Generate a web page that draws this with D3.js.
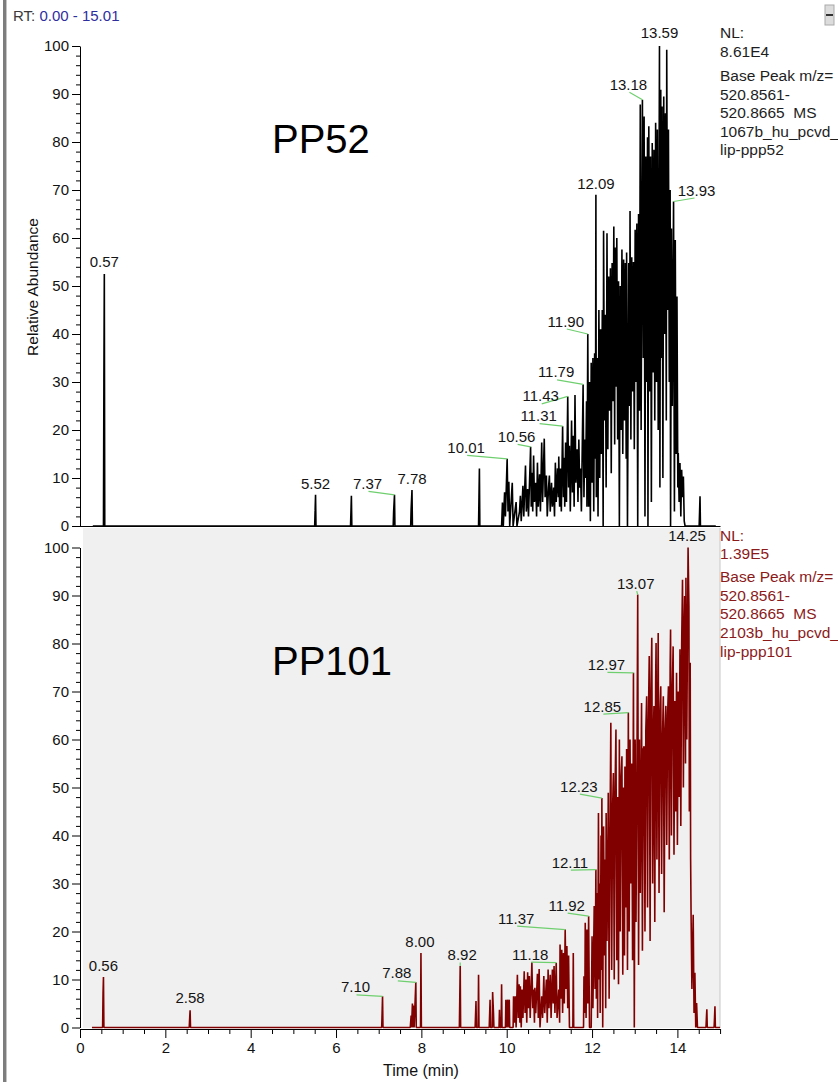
<!DOCTYPE html>
<html><head><meta charset="utf-8">
<script src="https://cdn.jsdelivr.net/npm/d3@7/dist/d3.min.js"></script>
<style>
body{margin:0;background:#fff;}
svg{display:block;}
text{font-family:"Liberation Sans",Arial,sans-serif;}
</style>
</head><body>
<svg id="c" width="838" height="1082"></svg>
<script>
// ---------- data ----------
const rtRange = ["0.00", "15.01"];
const xTicks = [0, 2, 4, 6, 8, 10, 12, 14];
const yTicks = [0, 10, 20, 30, 40, 50, 60, 70, 80, 90, 100];
const sampleNames = ["PP52", "PP101"];

// PP52 base peak chromatogram: [time (min), relative abundance]
const pp52Scans = [
[0.30,0],[0.55,0],[0.56,30],[0.57,52.5],[0.58,0],[5.50,0],[5.51,3.2],[5.52,6.5],[5.53,0],
[6.34,0],[6.35,3],[6.36,6.3],[6.37,0],[7.34,0],[7.35,3],[7.37,6.5],[7.38,0],
[7.75,0],[7.76,3.5],[7.78,7.5],[7.79,0],[9.34,0],[9.35,6],[9.36,12],[9.37,0],
[9.88,0],[9.90,4.9],[9.92,0],[9.95,7],[9.97,2],[10.01,14],[10.03,3],[10.05,9.2],[10.07,0],
[10.13,9],[10.15,0],[10.22,5],[10.24,0],[10.30,3],[10.32,6.3],[10.34,1],[10.38,8.4],[10.40,2],
[10.44,12.6],[10.46,3],[10.49,7.7],[10.51,2],[10.56,16.5],[10.575,4],[10.59,11.1],[10.61,3],
[10.63,14.7],[10.65,5],[10.68,9],[10.70,2],[10.72,13.2],[10.74,4],[10.77,10.8],[10.79,3],
[10.82,17.4],[10.84,5],[10.88,18.2],[10.90,6],[10.93,10.5],[10.95,2],[10.98,8],[11.00,10.5],
[11.02,3],[11.05,9],[11.07,4],[11.10,8],[11.12,2],[11.14,13.2],[11.16,5],[11.19,12],[11.21,6],
[11.22,14.5],[11.24,4],[11.26,12],[11.28,3],[11.31,20.8],[11.33,6],[11.35,14.2],[11.36,4],
[11.38,17.4],[11.40,5],[11.43,27],[11.45,8],[11.47,16.7],[11.49,3],[11.52,22],[11.54,7],
[11.56,18.8],[11.58,4],[11.60,27.3],[11.62,9],[11.65,16],[11.67,5],[11.69,18],[11.71,8],
[11.73,12],[11.75,3],[11.79,29.5],[11.81,6],[11.83,18],[11.85,10],[11.87,26],[11.88,4],
[11.90,40],[11.92,4],[11.94,30],[11.96,1],[11.98,34],[12.00,9],[12.02,35],[12.04,3],
[12.06,36],[12.08,14],[12.09,69],[12.10,6],[12.12,35],[12.14,2],[12.16,45],[12.18,10],
[12.20,41],[12.22,15],[12.24,45],[12.26,0],[12.27,61.5],[12.29,22],[12.31,44],[12.33,8],
[12.35,61],[12.37,16],[12.39,52],[12.41,24],[12.43,53.7],[12.45,11],[12.47,54.8],[12.49,26],
[12.51,62.4],[12.53,17],[12.54,58],[12.56,29],[12.58,60],[12.60,18],[12.62,51],[12.64,0],
[12.66,50],[12.68,20],[12.70,57.6],[12.72,15],[12.74,55.5],[12.76,22],[12.78,54.8],[12.80,14],
[12.81,57],[12.83,0],[12.86,54.8],[12.88,25],[12.89,65.6],[12.91,18],[12.93,56],[12.95,28],
[12.97,55],[12.99,16],[13.01,61.7],[13.03,30],[13.05,63],[13.07,0],[13.09,65],[13.11,24],
[13.13,87.8],[13.15,20],[13.18,88.8],[13.20,35],[13.22,85.3],[13.24,2],[13.26,77],[13.28,30],
[13.30,81],[13.31,0],[13.33,83.3],[13.35,28],[13.37,77],[13.39,5],[13.41,79.8],[13.43,32],
[13.45,78.4],[13.47,22],[13.49,84],[13.51,30],[13.53,82.6],[13.55,20],[13.58,100],[13.59,8],
[13.61,90.9],[13.62,35],[13.64,87.4],[13.66,10],[13.68,89.5],[13.70,40],[13.72,86],[13.74,22],
[13.75,99.2],[13.77,45],[13.79,82.6],[13.81,30],[13.83,70],[13.84,0],[13.86,62],[13.88,25],
[13.91,67.6],[13.93,3],[13.95,59.6],[13.97,15],[13.99,47.8],[14.01,8],[14.02,15.2],[14.04,5],
[14.06,13.1],[14.08,2],[14.10,11.7],[14.12,6],[14.14,10.3],[14.16,1],[14.18,0],
[14.51,0],[14.52,3],[14.53,6.2],[14.54,0],[14.90,0]
];

// PP101 base peak chromatogram: [time (min), relative abundance]
const pp101Scans = [
[0.28,0],[0.53,0],[0.54,7.1],[0.55,10.5],[0.56,0],[2.56,0],[2.57,1.9],[2.58,3.6],[2.59,0],
[7.07,0],[7.08,3],[7.09,6.5],[7.10,0],[7.74,0],[7.76,2.5],[7.77,0],[7.79,5],[7.80,0],
[7.81,4.6],[7.83,0],[7.87,9.4],[7.88,0],[7.98,0],[7.99,15.5],[8.00,0],[8.89,0],[8.90,6.2],
[8.91,12.8],[8.92,0],[9.26,0],[9.28,5.5],[9.29,0],[9.33,0],[9.34,11],[9.35,0],[9.59,0],
[9.61,5.8],[9.62,0],[9.66,0],[9.67,7.4],[9.69,3],[9.70,0],[9.82,0],[9.83,3.7],[9.84,0],
[9.87,0],[9.88,9],[9.89,0],[9.97,0],[9.98,5.8],[9.99,0],[10.02,5.8],[10.03,0],[10.06,5.8],
[10.07,0],[10.15,0],[10.16,6.5],[10.18,1],[10.20,6.5],[10.22,0],[10.25,11],[10.27,2],
[10.29,9],[10.31,1],[10.32,8.6],[10.34,0],[10.36,7.9],[10.38,2],[10.41,11.7],[10.43,3],
[10.45,10],[10.47,1],[10.49,11.5],[10.51,4],[10.53,10.7],[10.55,2],[10.59,13.6],[10.61,4],
[10.63,7.9],[10.65,1],[10.66,8.3],[10.68,3],[10.72,11.2],[10.74,2],[10.76,12.2],[10.78,0],
[10.82,6.5],[10.84,2],[10.87,10.7],[10.89,3],[10.93,10],[10.95,1],[10.97,12.1],[10.99,4],
[11.02,11],[11.04,2],[11.07,12.1],[11.09,5],[11.11,12.8],[11.13,3],[11.16,13.5],[11.18,2],
[11.22,7.9],[11.24,1],[11.25,17.3],[11.27,6],[11.29,16.2],[11.31,3],[11.33,15.5],[11.35,5],
[11.37,20.4],[11.39,8],[11.41,17],[11.43,4],[11.45,15],[11.47,0],[11.55,0],[11.56,15.5],
[11.57,0],[11.80,0],[11.81,10.7],[11.83,3],[11.84,21.8],[11.86,2],[11.88,20.4],[11.90,5],
[11.92,23.2],[11.94,0],[11.98,0],[12.00,19],[12.02,4],[12.05,25.3],[12.07,8],[12.09,32.9],
[12.10,6],[12.12,28],[12.13,2],[12.15,44.7],[12.17,10],[12.18,30],[12.19,3],[12.21,40],
[12.22,12],[12.23,47.8],[12.25,0],[12.27,41.9],[12.29,15],[12.31,35],[12.32,4],[12.33,44.7],
[12.35,18],[12.37,36],[12.38,48.9],[12.40,6],[12.42,40],[12.44,63.5],[12.46,12],[12.48,45],
[12.50,53],[12.52,10],[12.54,50],[12.56,62.1],[12.58,14],[12.60,48],[12.62,9],[12.64,60],
[12.66,20],[12.68,52],[12.70,56.5],[12.72,11],[12.74,50],[12.76,15],[12.77,54.4],[12.79,25],
[12.81,58],[12.83,12],[12.85,65.6],[12.87,20],[12.89,60],[12.91,30],[12.93,55],[12.95,14],
[12.97,73.9],[12.99,0],[13.01,60],[13.03,22],[13.05,50],[13.07,90.2],[13.09,13],[13.11,60],
[13.13,28],[13.15,55],[13.16,67.6],[13.18,16],[13.20,58],[13.22,58.6],[13.24,20],[13.26,62],
[13.28,69],[13.30,25],[13.32,64],[13.34,77.4],[13.36,18],[13.38,70],[13.40,81.2],[13.42,30],
[13.44,62],[13.45,67],[13.47,22],[13.49,72],[13.50,80.1],[13.52,35],[13.54,70],[13.55,82.2],
[13.57,28],[13.59,65],[13.61,71.1],[13.63,32],[13.65,60],[13.67,69],[13.69,24],[13.71,62],
[13.73,67],[13.75,38],[13.77,65],[13.79,71.1],[13.81,35],[13.83,75],[13.84,82.9],[13.86,40],
[13.88,70],[13.90,79.4],[13.92,36],[13.94,68],[13.96,45],[13.98,73.9],[14.00,38],[14.02,70],
[14.04,48],[14.06,78.8],[14.08,42],[14.10,80],[14.12,93.3],[14.14,50],[14.16,85],[14.17,89.9],
[14.19,55],[14.20,93.7],[14.22,60],[14.25,100],[14.27,87.8],[14.28,45],[14.30,76],[14.31,35],
[14.32,23.9],[14.34,8],[14.37,23.5],[14.39,3],[14.41,11.4],[14.43,0],[14.45,5.1],[14.47,0],
[14.67,0],[14.68,2],[14.69,3.8],[14.70,0],[14.86,0],[14.87,2],[14.88,4.4],[14.89,0],[15.00,0]
];

// peak labels (retention times as printed)
const pp52PeakLabels = ["0.57","5.52","7.37","7.78","10.01","10.56","11.31","11.43","11.79","11.90","12.09","13.18","13.59","13.93"];
const pp101PeakLabels = ["0.56","2.58","7.10","7.88","8.00","8.92","11.18","11.37","11.92","12.11","12.23","12.85","12.97","13.07","14.25"];

// header texts on the right
const pp52Legend = ["NL:", "8.61E4", "Base Peak m/z=", "520.8561-", "520.8665  MS", "1067b_hu_pcvd_", "lip-ppp52"];
const pp101Legend = ["NL:", "1.39E5", "Base Peak m/z=", "520.8561-", "520.8665  MS", "2103b_hu_pcvd_", "lip-ppp101"];

// ---------- layout (pixels) ----------
const pp52LabelOffsets = {"0.57":[0,-7],"5.52":[0,-6],"7.37":[-27,-6],"7.78":[0,-6],"10.01":[-41,-6],
  "10.56":[-14,-5],"11.31":[-24,-5],"11.43":[-27,5],"11.79":[-27,-7],"11.90":[-22,-7.5],
  "12.09":[0,-6],"13.18":[-14,-10],"13.59":[0,-8],"13.93":[23,-6]};
const pp101LabelOffsets = {"0.56":[0,-6],"2.58":[0,-7],"7.10":[-27,-4],"7.88":[-19,-4],"8.00":[-1,-6],
  "8.92":[2,-6],"11.18":[-26,-3],"11.37":[-49,-6],"11.92":[-22,-5.5],"12.11":[-26,-2],
  "12.23":[-23,-6.5],"12.85":[-26,-1],"12.97":[-27,-3],"13.07":[-2,-6],"14.25":[-1,-7]};
const legendBaselinesTop = [38, 57, 81, 100, 118, 137, 155];
const legendBaselinesBot = [541, 559, 582, 601, 619, 638, 657];

const svg = d3.select("#c");
const x = d3.scaleLinear().domain([0, 15.01]).range([80, 720.5]);
const yTop = d3.scaleLinear().domain([0, 100]).range([526, 46]);
const yBot = d3.scaleLinear().domain([0, 100]).range([1027.5, 547.5]);

// window frame bits
svg.append("rect").attr("x", 3).attr("y", 0).attr("width", 3).attr("height", 1082).attr("fill", "#7d7d7d");
svg.append("rect").attr("x", 6).attr("y", 0).attr("width", 1).attr("height", 1082).attr("fill", "#c4c4c4");
svg.append("rect").attr("x", 825).attr("y", 5).attr("width", 9).attr("height", 20).attr("fill", "#dcdcdc").attr("stroke", "#aaa");
svg.append("line").attr("x1", 826).attr("x2", 833).attr("y1", 15).attr("y2", 15).attr("stroke", "#333").attr("stroke-width", 2);

// RT header
const rt = svg.append("text").attr("x", 13).attr("y", 21).attr("font-size", 15);
rt.append("tspan").attr("fill", "#3a3a3a").text("RT: ");
rt.append("tspan").attr("fill", "#2e2e9e").text(rtRange[0] + " - " + rtRange[1]);

// bottom panel background
svg.append("rect").attr("x", 83).attr("y", 528).attr("width", 637).attr("height", 500)
  .attr("fill", "#f0f0f0");
svg.append("line").attr("x1", 720).attr("x2", 720).attr("y1", 528).attr("y2", 1028).attr("stroke", "#c8c8c8");

function yAxis(y) {
  const g = svg.append("g").attr("transform", "translate(80,0)");
  g.call(d3.axisLeft(y).tickValues(yTicks).tickSize(8).tickSizeOuter(0).tickPadding(3));
  const minor = d3.range(0, 101, 2).filter(v => v % 10 !== 0);
  const gm = svg.append("g").attr("transform", "translate(80,0)");
  gm.call(d3.axisLeft(y).tickValues(minor).tickSize(4).tickSizeOuter(0).tickFormat(""));
  gm.select(".domain").remove();
  [g, gm].forEach(s => {
    s.selectAll("path,line").attr("stroke", "#000");
    s.selectAll("text").attr("font-size", 15).attr("fill", "#111")
      .attr("font-family", "Liberation Sans, Arial, sans-serif");
  });
}
yAxis(yTop);
yAxis(yBot);

// top panel bottom edge
svg.append("line").attr("x1", 80).attr("x2", 720.5).attr("y1", 526.5).attr("y2", 526.5).attr("stroke", "#000");

// x axis
const gx = svg.append("g").attr("transform", "translate(0,1029)");
gx.call(d3.axisBottom(x).tickValues(xTicks).tickSize(9).tickSizeOuter(0).tickPadding(4).tickFormat(d3.format("d")));
const gxm = svg.append("g").attr("transform", "translate(0,1029)");
gxm.call(d3.axisBottom(x).tickValues(d3.range(0, 15.01, 0.5).filter(v => v % 2 !== 0)).tickSize(5).tickSizeOuter(0).tickFormat(""));
gxm.select(".domain").remove();
[gx, gxm].forEach(s => {
  s.selectAll("path,line").attr("stroke", "#000");
  s.selectAll("text").attr("font-size", 15).attr("fill", "#111")
    .attr("font-family", "Liberation Sans, Arial, sans-serif");
});

// axis titles
svg.append("text").attr("x", 421).attr("y", 1076).attr("text-anchor", "middle")
  .attr("font-size", 16).attr("fill", "#111").text("Time (min)");
svg.append("text").attr("transform", "translate(38,287) rotate(-90)").attr("text-anchor", "middle")
  .attr("font-size", 15.5).attr("fill", "#111").text("Relative Abundance");

// traces
function trace(scans, y, color) {
  svg.append("path").datum(scans)
    .attr("d", d3.line().x(d => x(d[0])).y(d => y(d[1])))
    .attr("fill", "none").attr("stroke", color).attr("stroke-width", 1.6)
    .attr("stroke-linejoin", "bevel");
}
trace(pp52Scans, yTop, "#000");
trace(pp101Scans, yBot, "#800000");

// peak labels
function peakLabels(labels, offsets, scans, y) {
  labels.forEach(lbl => {
    const t0 = +lbl;
    const near = scans.filter(d => Math.abs(d[0] - t0) <= 0.031);
    const pk = near.reduce((a, b) => (b[1] > a[1] ? b : a));
    const px = x(pk[0]), py = y(pk[1]);
    const off = offsets[lbl];
    const lx = px + off[0], ly = py + off[1];
    if (Math.abs(off[0]) >= 2) {
      svg.append("line").attr("x1", lx + (off[0] < 0 ? 1 : -2)).attr("y1", ly + 2.5)
        .attr("x2", px).attr("y2", py).attr("stroke", "#6fcf6f").attr("stroke-width", 1.2);
    }
    svg.append("text").attr("x", lx).attr("y", ly).attr("text-anchor", "middle")
      .attr("font-size", 15).attr("fill", "#141414").text(lbl);
  });
}
peakLabels(pp52PeakLabels, pp52LabelOffsets, pp52Scans, yTop);
peakLabels(pp101PeakLabels, pp101LabelOffsets, pp101Scans, yBot);

// sample names
svg.append("text").attr("x", 272).attr("y", 153).attr("font-family", "Noto Sans, sans-serif")
  .attr("font-size", 40).attr("fill", "#000").text(sampleNames[0]);
svg.append("text").attr("x", 272).attr("y", 675).attr("font-family", "Noto Sans, sans-serif")
  .attr("font-size", 40).attr("fill", "#000").text(sampleNames[1]);

// right legends
function legend(lines, baselines, color) {
  lines.forEach((s, i) => {
    svg.append("text").attr("x", 720).attr("y", baselines[i]).attr("font-size", 15.5)
      .attr("fill", color).style("white-space", "pre").text(s);
  });
}
legend(pp52Legend, legendBaselinesTop, "#1e1e1e");
legend(pp101Legend, legendBaselinesBot, "#8b1a1a");
</script>
</body></html>
